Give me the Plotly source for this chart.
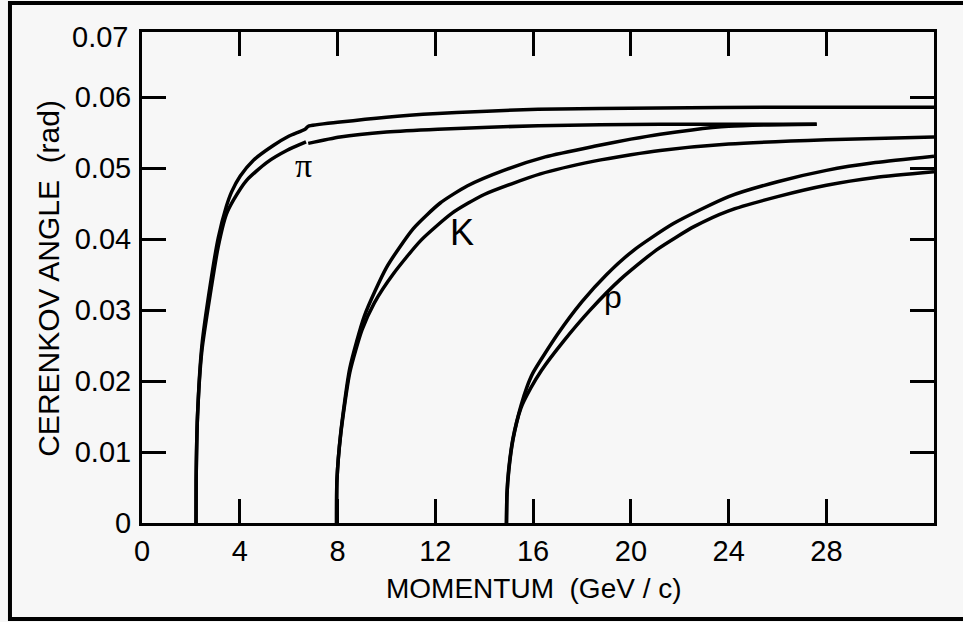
import plotly.graph_objects as go

# ---- data (momentum GeV/c, angle rad) ----
# pion, upper curve
pi_upper_p = [2.21, 2.215, 2.27, 2.45, 2.79, 3.12, 3.45, 3.67, 4.02, 4.55, 5.37, 6.0, 6.67, 6.8, 8.1, 10.0, 12.1, 16.2, 21.2, 26.0, 32.4]
pi_upper_t = [0.0, 0.006, 0.0150, 0.0250, 0.0335, 0.0402, 0.0446, 0.0467, 0.0489, 0.0511, 0.0532, 0.0545, 0.0555, 0.0559, 0.0565, 0.0572, 0.0577, 0.0583, 0.0585, 0.0586, 0.0586]

# pion, lower curve (two drawn pieces with a small break near 6.7 GeV/c)
pi_lower_p1 = [2.21, 2.215, 2.27, 2.45, 2.79, 3.12, 3.45, 3.74, 4.28, 5.1, 5.92, 6.71]
pi_lower_t1 = [0.0, 0.006, 0.0150, 0.0243, 0.0322, 0.0390, 0.0435, 0.0455, 0.0483, 0.0508, 0.0525, 0.0537]
pi_lower_p2 = [6.80, 8.1, 10.0, 12.1, 16.2, 21.2, 27.6]
pi_lower_t2 = [0.0535, 0.0544, 0.0551, 0.0555, 0.0560, 0.0562, 0.0562]

# kaon
k_upper_p = [7.96, 7.975, 8.13, 8.5, 9.1, 10.0, 11.1, 12.2, 13.3, 14.8, 16.5, 18.5, 20.0, 21.2, 22.5, 24.0, 25.5, 27.6]
k_upper_t = [0.0, 0.006, 0.0127, 0.0218, 0.0292, 0.0360, 0.0415, 0.0451, 0.0475, 0.0497, 0.0516, 0.0531, 0.0541, 0.0548, 0.0554, 0.0559, 0.0561, 0.0562]
k_lower_p = [7.96, 7.975, 8.13, 8.5, 9.0, 9.5, 10.3, 11.4, 12.7, 14.0, 16.3, 18.5, 20.0, 21.2, 24.0, 28.0, 32.4]
k_lower_t = [0.0, 0.006, 0.0125, 0.0212, 0.0272, 0.0310, 0.0352, 0.0398, 0.0437, 0.0463, 0.0492, 0.0510, 0.0519, 0.0525, 0.0534, 0.0540, 0.0544]

# proton
p_upper_p = [14.91, 14.93, 15.0, 15.18, 15.5, 15.75, 16.0, 17.0, 18.0, 19.0, 20.1, 21.74, 24.0, 26.0, 28.0, 30.0, 32.4]
p_upper_t = [0.0, 0.004, 0.0075, 0.0120, 0.0165, 0.0192, 0.0212, 0.0266, 0.0312, 0.0350, 0.0384, 0.0422, 0.0460, 0.0481, 0.0497, 0.0508, 0.0517]
p_lower_p = [14.91, 14.93, 15.0, 15.18, 15.5, 15.9, 16.34, 17.24, 18.33, 19.56, 21.05, 22.6, 24.0, 26.0, 28.0, 30.0, 32.4]
p_lower_t = [0.0, 0.004, 0.0072, 0.0118, 0.0162, 0.0190, 0.0215, 0.0256, 0.0300, 0.0343, 0.0385, 0.0418, 0.0440, 0.0460, 0.0476, 0.0487, 0.0495]

x_ticks = [0, 4, 8, 12, 16, 20, 24, 28]
x_tick_text = ["0", "4", "8", "12", "16", "20", "24", "28"]
y_ticks = [0, 0.01, 0.02, 0.03, 0.04, 0.05, 0.06]
y_tick_text = ["0", "0.01", "0.02", "0.03", "0.04", "0.05", "0.06"]
y_top_label = "0.07"

labels = [("\u03c0", 6.62, 0.0504), ("K", 13.08, 0.0410), ("p", 19.27, 0.0318)]

x_title = "MOMENTUM\u00a0 (GeV / c)"
y_title = "CERENKOV ANGLE\u00a0 (rad)"

FONT = "Liberation Sans, Arial, Helvetica, sans-serif"
SERIF = "Liberation Serif, Times New Roman, serif"
BG = "#f7f7f7"

fig = go.Figure()
for xs, ys in [(pi_upper_p, pi_upper_t),
               (pi_lower_p1, pi_lower_t1), (pi_lower_p2, pi_lower_t2),
               (k_upper_p, k_upper_t), (k_lower_p, k_lower_t),
               (p_upper_p, p_upper_t), (p_lower_p, p_lower_t)]:
    fig.add_trace(go.Scatter(x=xs, y=ys, mode="lines",
                             line=dict(color="black", width=3.5, shape="spline", smoothing=0.6),
                             showlegend=False, hoverinfo="skip"))

label_style = {"\u03c0": (SERIF, 34), "K": (FONT, 36), "p": (FONT, 32)}
for txt, lx, ly in labels:
    fam, size = label_style[txt]
    fig.add_annotation(x=lx, y=ly, text=txt, showarrow=False,
                       font=dict(family=fam, size=size, color="black"),
                       xanchor="center", yanchor="middle")

axis_common = dict(showline=True, linewidth=3, linecolor="black", mirror="ticks",
                   ticks="inside", ticklen=24, tickwidth=3, tickcolor="black",
                   showgrid=False, zeroline=False,
                   tickfont=dict(family=FONT, size=29, color="black"))

fig.update_xaxes(range=[0, 32.4], tickmode="array", tickvals=x_ticks, ticktext=x_tick_text,
                 **axis_common)
fig.update_yaxes(range=[0, 0.0692], tickmode="array", tickvals=y_ticks, ticktext=y_tick_text,
                 ticklabelstandoff=2, **axis_common)

# top "0.07" label at the upper corner of the axis
fig.add_annotation(xref="paper", yref="paper", x=-0.0152, y=0.9888, text=y_top_label,
                   showarrow=False, xanchor="right", yanchor="middle",
                   font=dict(family=FONT, size=29, color="black"))

# axis titles
fig.add_annotation(xref="paper", yref="paper", x=0.4946, y=-0.1324, text=x_title,
                   showarrow=False, xanchor="center", yanchor="middle",
                   font=dict(family=FONT, size=28, color="black"))
fig.add_annotation(xref="paper", yref="paper", x=-0.1174, y=0.4974, text=y_title,
                   showarrow=False, xanchor="center", yanchor="middle", textangle=-90,
                   font=dict(family=FONT, size=30, color="black"))

# outer frame
fig.add_shape(type="rect", xref="paper", yref="paper", x0=-0.1667, x1=1.08, y0=-0.1955, y1=1.0591,
              line=dict(color="black", width=4), fillcolor="rgba(0,0,0,0)", layer="below")

fig.update_layout(width=963, height=622, margin=dict(l=142, r=29, t=32, b=99),
                  paper_bgcolor=BG, plot_bgcolor=BG, showlegend=False)

fig.write_html("out.html", config={"displayModeBar": False},
               post_script="document.body.style.margin='0';document.body.style.overflow='hidden';")
